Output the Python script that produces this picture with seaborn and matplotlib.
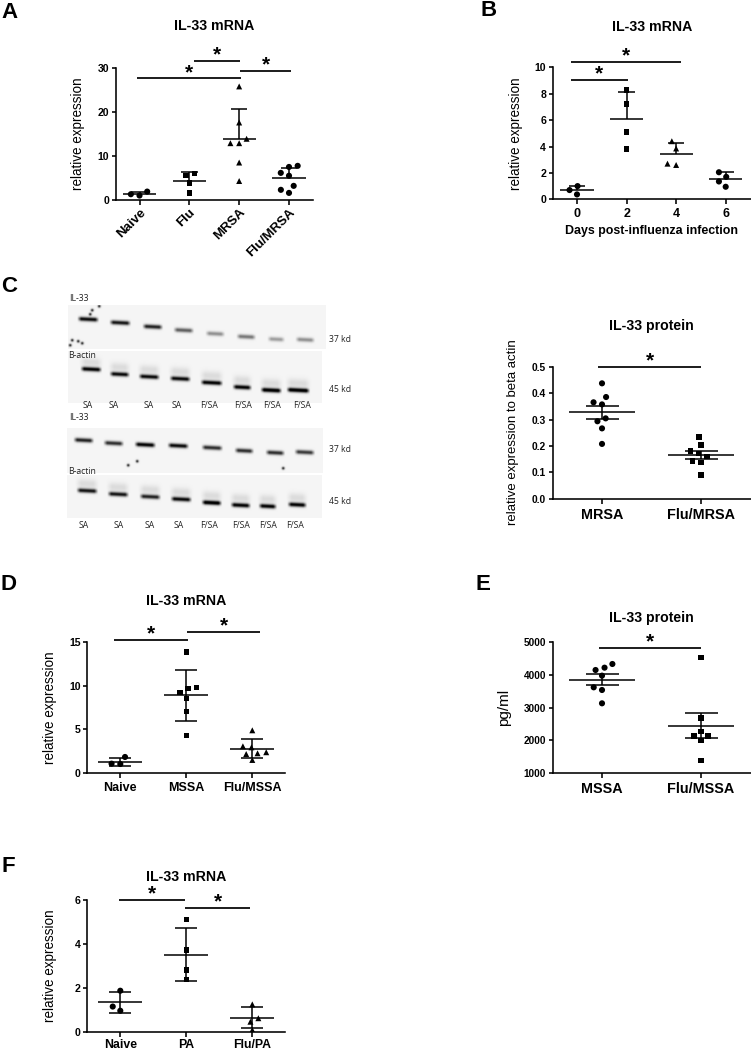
import numpy as np
import seaborn as sns
import matplotlib.pyplot as plt

W, H = 751, 1050

# panel A
a_cats = ["Naive", "Flu", "MRSA", "Flu/MRSA"]
a_naive = [1.8, 0.9, 1.2]
a_flu = [5.45, 5.9, 3.7, 1.5]
a_mrsa = [25.7, 17.5, 13.8, 12.8, 12.8, 8.4, 4.2]
a_flu_mrsa = [7.4, 7.65, 6.05, 5.4, 3.1, 2.2, 1.5]
a_means = [1.36, 4.25, 13.7, 4.8]
a_upper = [1.75, 6.2, 20.5, 7.2]
a_ticks = [0, 10, 20, 30]

# panel B
b_cats = ["0", "2", "4", "6"]
b_day0 = [1.0, 0.7, 0.37]
b_day2 = [8.3, 7.2, 5.1, 3.8]
b_day4 = [4.4, 3.85, 2.7, 2.6]
b_day6 = [2.05, 1.7, 1.35, 0.95]
b_means = [0.7, 6.1, 3.43, 1.55]
b_upper = [1.0, 8.15, 4.3, 2.05]
b_ticks = [0, 2, 4, 6, 8, 10]

# panel C
c_cats = ["MRSA", "Flu/MRSA"]
c_mrsa = [0.438, 0.386, 0.366, 0.358, 0.305, 0.294, 0.267, 0.208]
c_flu_mrsa = [0.235, 0.204, 0.182, 0.171, 0.161, 0.143, 0.138, 0.089]
c_means = [0.328, 0.166]
c_upper = [0.353, 0.182]
c_lower = [0.302, 0.151]
c_ticks = [0.0, 0.1, 0.2, 0.3, 0.4, 0.5]

# panel D
d_cats = ["Naive", "MSSA", "Flu/MSSA"]
d_naive = [1.86, 1.06, 1.1]
d_mssa = [13.8, 9.76, 9.68, 9.23, 8.55, 7.06, 4.3]
d_flu_mssa = [4.9, 3.08, 2.96, 2.4, 2.28, 2.2, 1.52]
d_means = [1.33, 8.92, 2.8]
d_upper = [1.8, 11.8, 3.9]
d_lower = [0.8, 6.0, 1.7]
d_ticks = [0, 5, 10, 15]

# panel E
e_cats = ["MSSA", "Flu/MSSA"]
e_mssa = [4330, 4218, 4147, 3975, 3619, 3538, 3132]
e_flu_mssa = [4523, 2685, 2279, 2137, 2137, 1995, 1386]
e_means = [3853, 2452]
e_upper = [4025, 2827]
e_lower = [3690, 2076]
e_ticks = [1000, 2000, 3000, 4000, 5000]

# panel F
f_cats = ["Naive", "PA", "Flu/PA"]
f_naive = [1.89, 1.17, 0.98]
f_pa = [5.12, 3.74, 2.83, 2.39]
f_flu_pa = [1.27, 0.64, 0.48, 0.11]
f_means = [1.36, 3.53, 0.67]
f_upper = [1.83, 4.73, 1.17]
f_lower = [0.88, 2.32, 0.18]
f_ticks = [0, 2, 4, 6]

# western blot bands, read from the blots: x start, x end, y, darkness
blot1_bands = [(77, 99, 319, .95), (109, 131, 322.5, .9), (142, 163, 326.5, .85), (173, 194, 330, .6),
               (205, 225, 333.5, .4), (236, 256, 336.5, .5), (267, 285, 339, .35), (295, 315, 339.5, .4)]
blot2_bands = [(80, 102, 369, 1), (109, 130, 374, .95), (138, 160, 376.5, .95), (169, 191, 378.5, .95),
               (200, 223, 382.5, 1), (232, 252, 387, 1), (260, 282, 390, 1.1), (286, 310, 390, 1.1)]
blot3_bands = [(73, 94, 440, .85), (103, 124, 443, .8), (134, 156, 444.5, 1), (167, 189, 445.5, .95),
               (201, 223, 447.5, .8), (234, 254, 450.5, .8), (265, 285, 452.5, .8), (294, 315, 452, .75)]
blot4_bands = [(76, 98, 490.5, .9), (107, 129, 494, .9), (139, 161, 496.5, .85), (170, 192, 499, .95),
               (201, 222, 502.5, 1.1), (230, 251, 505, 1), (258, 277, 506, 1), (287, 307, 504.5, 1)]
blot_specks = [(92, 310), (99, 306), (90, 314), (72, 340), (78, 341), (82, 343), (70, 345), (128, 465), (137, 461), (283, 468)]
lane_labels = ["SA", "SA", "SA", "SA", "F/SA", "F/SA", "F/SA", "F/SA"]
lane_x_top = [88, 114, 149, 177, 209, 243, 272, 302]
lane_x_bottom = [84, 119, 150, 179, 209, 241, 268, 295]


def make_axes(fig, box, cat_first, cat_last, n, ylim):
    left, right, top, bottom = box
    ax = fig.add_axes([left / W, 1 - bottom / H, (right - left) / W, (bottom - top) / H])
    step = (cat_last - cat_first) / (n - 1)
    ax.set_xlim((left - cat_first) / step, (right - cat_first) / step)
    ax.set_ylim(*ylim)
    return ax


def draw_groups(ax, cats, groups, markers, means, upper, lower=None):
    order = list(range(len(cats)))
    lim = ax.get_xlim()
    sizes = {"o": 4.4, "s": 4.0, "^": 4.3}
    for i, vals in enumerate(groups):
        size = sizes[markers[i]]
        # the extra linewidth has no colour, it only widens the swarm spacing
        sns.swarmplot(x=[i] * len(vals), y=vals, order=order, marker=markers[i], size=size,
                      color="black", edgecolor="none", linewidth=6.0 - size, ax=ax, zorder=3)
    for i in order:
        ax.hlines(means[i], i - 1 / 3, i + 1 / 3, color="black", lw=1.1, zorder=2)
        ax.hlines(upper[i], i - 1 / 6, i + 1 / 6, color="black", lw=1.1, zorder=2)
        low = means[i] if lower is None else lower[i]
        ax.vlines(i, low, upper[i], color="black", lw=1.1, zorder=2)
        if lower is not None:
            ax.hlines(lower[i], i - 1 / 6, i + 1 / 6, color="black", lw=1.1, zorder=2)
    ax.set_xlim(lim)


def style_axes(ax, box, cats, ticks, tick_size, cat_size, title, title_xy, ylabel, ylabel_xy, ylabel_size, fmt=None, x_pad=3):
    left, right, top, bottom = box
    sns.despine(ax=ax)
    for side in ["left", "bottom"]:
        ax.spines[side].set_linewidth(1.15)
    ax.set_xticks(range(len(cats)))
    ax.set_xticklabels(cats, fontsize=cat_size, fontweight="bold")
    ax.set_yticks(ticks)
    if fmt:
        ax.set_yticklabels([fmt.format(t) for t in ticks])
    ax.tick_params(axis="y", length=3.2, width=1.15, pad=1.5, labelsize=tick_size)
    ax.tick_params(axis="x", length=3.6, width=1.15, pad=x_pad)
    for lab in ax.get_yticklabels():
        lab.set_fontweight("bold")
    ax.set_xlabel("")
    ax.set_title(title, x=(title_xy[0] - left) / (right - left), y=(bottom - title_xy[1]) / (bottom - top), pad=0,
                 fontsize=10.2, fontweight="bold", ha="center", va="center")
    ax.set_ylabel(ylabel, fontsize=ylabel_size, va="center", ha="center")
    ax.yaxis.set_label_coords(ylabel_xy[0] / W, 1 - ylabel_xy[1] / H, transform=ax.figure.transFigure)


def add_brackets(ax, brackets):
    for x0, x1, y in brackets:
        ax.plot([x0, x1], [y, y], color="black", lw=1.25, clip_on=False, solid_capstyle="butt", zorder=4)
        ax.annotate("*", xy=((x0 + x1) / 2, y), xytext=(0, -2.5), textcoords="offset points", ha="center",
                    va="bottom", fontsize=15, fontweight="bold", annotation_clip=False)


def blot_image(extent, bands, smear=0.0):
    x0, x1, y0, y1 = extent
    xs, ys = np.meshgrid(np.arange(x0, x1, 0.5), np.arange(y0, y1, 0.5))
    dark = np.full(xs.shape, 0.04)
    for bx0, bx1, by, d in bands:
        across = np.clip((xs - bx0) / 4, 0, 1) * np.clip((bx1 - xs) / 4, 0, 1)
        line = by + (xs - (bx0 + bx1) / 2) * 0.05
        dark = dark + d * across * np.exp(-((ys - line) / 2.1) ** 2)
        if smear:
            wide = np.clip((xs - bx0 + 1) / 6, 0, 1) * np.clip((bx1 + 1 - xs) / 6, 0, 1)
            dark = dark + smear * wide * np.exp(-((ys - line + 7) / 4.5) ** 2)
    for sx, sy in blot_specks:
        dark = dark + 0.85 * np.exp(-(((xs - sx) / 1.4) ** 2 + ((ys - sy) / 1.4) ** 2))
    return np.clip(dark, 0, 1)


def draw_blots(fig):
    ax = fig.add_axes([0, 0, 1, 1], facecolor="none")
    blots = [((68, 326, 305, 349), blot1_bands, 0), ((68, 322, 351, 403), blot2_bands, .1),
             ((67, 323, 428, 473), blot3_bands, 0), ((67, 322, 475, 518), blot4_bands, .1)]
    for extent, bands, smear in blots:
        img = blot_image(extent, bands, smear)
        ax.imshow(img, cmap="gray_r", vmin=0, vmax=1, extent=(extent[0], extent[1], extent[3], extent[2]),
                  interpolation="bilinear", aspect="auto")
    ax.set_xlim(0, W)
    ax.set_ylim(H, 0)
    ax.axis("off")
    small = dict(fontsize=6.2, family="Open Sans", ha="center", va="center", color="#222222")
    for x, y, t in [(79, 298.5, "IL-33"), (79, 417.5, "IL-33"), (82, 356, "B-actin"), (82, 472, "B-actin"),
                    (340, 339, "37 kd"), (340, 389, "45 kd"), (340, 449, "37 kd"), (340, 501, "45 kd")]:
        ax.text(x, y, t, **small)
    for x, t in zip(lane_x_top, lane_labels):
        ax.text(x, 406, t, **small)
    for x, t in zip(lane_x_bottom, lane_labels):
        ax.text(x, 526, t, **small)
    for x, y, t in [(9, 12, "A"), (489, 11, "B"), (9, 287, "C"), (9, 585, "D"), (483, 585, "E"), (8, 866, "F")]:
        ax.text(x, y, t, fontsize=16, fontweight="bold", ha="center", va="center")


sns.set_theme(style="ticks")
plt.rcParams["font.family"] = ["Liberation Sans", "DejaVu Sans"]
plt.rcParams["text.color"] = "black"
plt.rcParams["axes.labelcolor"] = "black"
plt.rcParams["xtick.color"] = "black"
plt.rcParams["ytick.color"] = "black"
plt.rcParams["axes.edgecolor"] = "black"

fig = plt.figure(figsize=(W / 100, H / 100), dpi=100, facecolor="white")
draw_blots(fig)

# A
box = (116, 313, 67.5, 199.5)
ax = make_axes(fig, box, 139.5, 289, 4, (0, 30))
draw_groups(ax, a_cats, [a_naive, a_flu, a_mrsa, a_flu_mrsa], ["o", "s", "^", "o"], a_means, a_upper)
style_axes(ax, box, a_cats, a_ticks, 7.6, 9.5, "IL-33 mRNA", (214.5, 26), "relative expression", (78, 133.5), 9.75, x_pad=1.5)
plt.setp(ax.get_xticklabels(), rotation=45, ha="right", rotation_mode="anchor")
add_brackets(ax, [(-0.05, 2.03, 27.5), (1.1, 2.02, 31.4), (2.01, 3.05, 29.2)])

# B
box = (552.7, 750.7, 67.3, 199.3)
ax = make_axes(fig, box, 577, 725.7, 4, (0, 10))
draw_groups(ax, b_cats, [b_day0, b_day2, b_day4, b_day6], ["o", "s", "^", "o"], b_means, b_upper)
style_axes(ax, box, b_cats, b_ticks, 7.6, 9, "IL-33 mRNA", (651.7, 26.7), "relative expression", (515.7, 133.7), 9.75)
ax.set_xlabel("Days post-influenza infection", fontsize=8.9, fontweight="bold", labelpad=3)
add_brackets(ax, [(-0.13, 2.09, 10.43), (-0.13, 1.02, 9.07)])

# C
box = (552.7, 750.7, 367, 498.7)
ax = make_axes(fig, box, 602, 701, 2, (0, 0.5))
draw_groups(ax, c_cats, [c_mrsa, c_flu_mrsa], ["o", "s"], c_means, c_upper, c_lower)
style_axes(ax, box, c_cats, c_ticks, 7.4, 10.4, "IL-33 protein", (651.7, 325.7), "relative expression to beta actin", (513, 432.5), 9.5, "{:.1f}")
add_brackets(ax, [(-0.037, 1.003, 0.499)])

# D
box = (87.3, 285, 641.7, 773.3)
ax = make_axes(fig, box, 120.3, 252.3, 3, (0, 15))
draw_groups(ax, d_cats, [d_naive, d_mssa, d_flu_mssa], ["o", "s", "^"], d_means, d_upper, d_lower)
style_axes(ax, box, d_cats, d_ticks, 7.6, 9, "IL-33 mRNA", (186, 600.7), "relative expression", (50, 707.5), 9.75)
add_brackets(ax, [(-0.1, 1.03, 15.15), (1.015, 2.116, 16.06)])

# E
box = (552.7, 750.7, 642, 773.3)
ax = make_axes(fig, box, 602, 701, 2, (1000, 5000))
draw_groups(ax, e_cats, [e_mssa, e_flu_mssa], ["o", "s"], e_means, e_upper, e_lower)
style_axes(ax, box, e_cats, e_ticks, 7.2, 10.4, "IL-33 protein", (651.7, 618), "pg/ml", (504, 707), 11)
add_brackets(ax, [(-0.034, 1.003, 4827)])

# F
box = (87.3, 285, 900.3, 1032.3)
ax = make_axes(fig, box, 120.3, 252.3, 3, (0, 6))
draw_groups(ax, f_cats, [f_naive, f_pa, f_flu_pa], ["o", "s", "^"], f_means, f_upper, f_lower)
style_axes(ax, box, f_cats, f_ticks, 7.6, 8.8, "IL-33 mRNA", (186, 877), "relative expression", (50, 966), 9.75, x_pad=1)
add_brackets(ax, [(-0.025, 0.975, 6.02), (0.975, 1.97, 5.67)])

fig.savefig("out.png", dpi=100)
